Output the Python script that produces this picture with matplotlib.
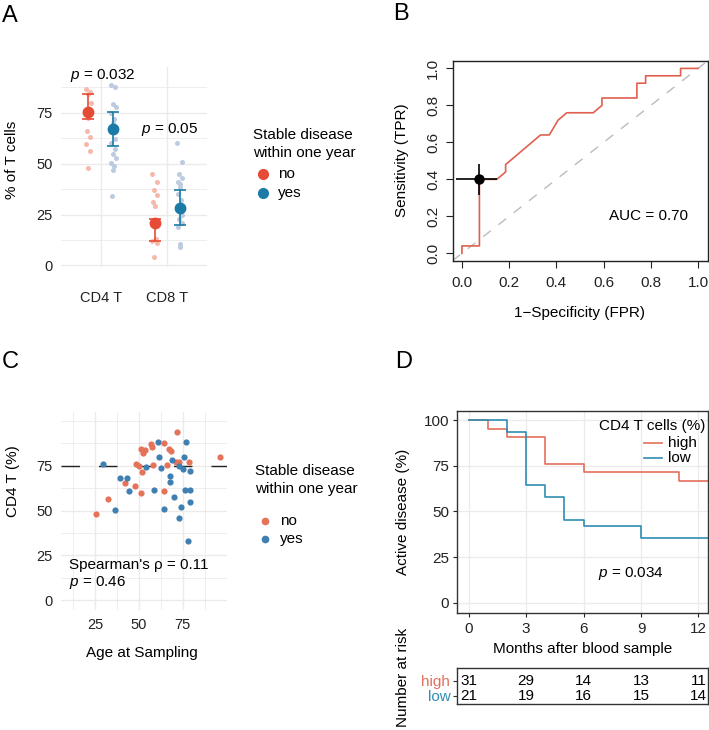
import numpy as np
import matplotlib
matplotlib.use("Agg")
import matplotlib.pyplot as plt
from matplotlib.lines import Line2D

plt.rcParams["font.family"] = ["Liberation Sans", "DejaVu Sans"]
plt.rcParams["mathtext.fontset"] = "custom"
plt.rcParams["mathtext.it"] = "Liberation Sans:italic"
plt.rcParams["mathtext.rm"] = "Liberation Sans"

# ---- data -------------------------------------------------------------
# A: % of T cells per patient, by stable disease (no / yes)
cats = ["CD4 T", "CD8 T"]
cd4_no = [86.5, 85.3, 84.0, 80.0, 76.0, 74.0, 72.5, 66.1, 63.2, 59.9, 56.3, 48.0]
cd4_yes = [88.6, 87.5, 79.1, 78.0, 75.0, 72.0, 70.0, 67.0, 62.3, 60.0, 57.0,
           54.6, 52.8, 50.5, 49.0, 47.0, 34.0]
cd8_no = [45.1, 41.0, 36.8, 34.4, 31.0, 29.0, 22.0, 20.0, 13.0, 12.2, 11.0, 3.9]
cd8_yes = [60.2, 50.8, 45.0, 43.0, 41.0, 40.0, 38.5, 35.0, 32.0, 27.8, 25.0,
           23.0, 21.0, 19.0, 10.5, 9.2]
mid_no = [75.2, 20.7]
lo_no = [71.9, 12.0]
hi_no = [84.0, 23.0]
mid_yes = [66.8, 28.1]
lo_yes = [58.9, 19.9]
hi_yes = [75.3, 36.8]
p_labels = ["0.032", "0.05"]
p_y = [93.5, 67.0]

# B: ROC curve
fpr = [0, 0, 0.074, 0.074, 0.148, 0.185, 0.185, 0.333, 0.370, 0.407, 0.444,
       0.556, 0.593, 0.593, 0.741, 0.741, 0.778, 0.778, 0.926, 0.926, 1.0]
tpr = [0, 0.04, 0.04, 0.40, 0.40, 0.44, 0.48, 0.64, 0.64, 0.72, 0.76,
       0.76, 0.80, 0.84, 0.84, 0.92, 0.92, 0.96, 0.96, 1.0, 1.0]
best_fpr, best_fpr_ci = 0.074, (-0.024, 0.148)
best_tpr, best_tpr_ci = 0.40, (0.315, 0.483)
auc = 0.70

# C: age vs CD4 T (%)
age_no = [25.2, 32.5, 42.0, 47.7, 51.1, 51.5, 48.2, 51.1, 53.4, 52.2, 56.6, 57.4,
          57.9, 64.4, 67.3, 68.2, 65.7, 71.6, 70.9, 72.8, 78.5, 96.1, 64.4, 50.1]
cd4_age_no = [47.9, 56.6, 65.3, 63.8, 59.8, 71.5, 75.9, 84.5, 83.6, 81.9, 87.3, 85.4,
              75.2, 87.6, 84.1, 83.0, 75.2, 94.0, 76.9, 76.9, 77.0, 79.8, 60.9, 74.6]
age_yes = [29.2, 36.3, 39.1, 42.9, 44.4, 53.8, 58.7, 61.0, 61.4, 62.5, 64.0, 68.8, 67.4,
           67.4, 69.9, 72.8, 74.1, 75.2, 75.8, 76.6, 76.0, 79.0, 79.0, 78.8, 77.9, 73.0]
cd4_age_yes = [76.1, 50.3, 67.9, 68.1, 60.7, 74.3, 61.4, 88.4, 79.8, 73.7, 50.8, 78.0, 69.1,
               65.7, 57.5, 46.0, 52.1, 73.1, 79.8, 88.4, 61.4, 61.4, 71.8, 54.6, 33.0, 74.6]
cd4_cut = 75
rho, rho_p = "0.11", "0.46"

# D: Kaplan-Meier, active disease (%)
t_high = [0, 1, 2, 4, 6, 11, 12.6]
s_high = [100, 95.2, 90.5, 76.2, 71.4, 66.7, 66.7]
t_low = [0, 2, 3, 4, 5, 6, 9, 12.6]
s_low = [100, 93.5, 64.5, 58.1, 45.2, 41.9, 35.5, 35.5]
risk_t = [0, 3, 6, 9, 12]
risk_high = [31, 29, 14, 13, 11]
risk_low = [21, 19, 16, 15, 14]
km_p = "0.034"

# ---- style ------------------------------------------------------------
W, H = 709, 730
RED, BLUE = "#E64B35", "#1B7BA6"
RED_L, BLUE_L = "#F5B9AC", "#BCCBDF"
RED_C, BLUE_C = "#E5735A", "#3F7FB2"
RED_D, BLUE_D = "#E46F5B", "#2F8DB4"
GRID = "#EBEBEB"
FS = 11


def rect(l, t, r, b):
    return [l / W, 1 - b / H, (r - l) / W, (b - t) / H]


def fxy(x, y):
    return x / W, 1 - y / H


fig = plt.figure(figsize=(W / 100, H / 100), dpi=100, facecolor="white")

# ---- A ----------------------------------------------------------------
axA = fig.add_axes(rect(61, 67, 207, 267))
axA.set_xlim(0.4, 2.6)
axA.set_ylim(-0.8, 97.5)
axA.set_xticks([1, 2])
axA.set_xticklabels(cats)
axA.set_yticks([0, 25, 50, 75])
axA.set_yticks([12.5, 37.5, 62.5, 87.5], minor=True)
axA.grid(which="major", color=GRID, lw=1.0)
axA.grid(which="minor", axis="y", color=GRID, lw=0.6)
axA.set_axisbelow(True)
for s in axA.spines.values():
    s.set_visible(False)
axA.tick_params(which="both", length=0, labelsize=10.5, colors="#222222")
axA.tick_params(axis="x", pad=17)
axA.tick_params(axis="y", pad=6)

jit = np.array([-0.04, 0.03, -0.01, 0.04, -0.03, 0.01, 0.0, -0.02, 0.02])
dodge = 0.19
for i, (vals_no, vals_yes) in enumerate([(cd4_no, cd4_yes), (cd8_no, cd8_yes)]):
    xc = i + 1
    axA.scatter(xc - dodge + np.resize(jit, len(vals_no)), vals_no, s=13,
                color=RED_L, lw=0, zorder=2)
    axA.scatter(xc + dodge + np.resize(jit, len(vals_yes)), vals_yes, s=13,
                color=BLUE_L, lw=0, zorder=2)

xs = np.arange(1, len(cats) + 1)
for x, mid, lo, hi, col in [(xs - dodge, mid_no, lo_no, hi_no, RED),
                            (xs + dodge, mid_yes, lo_yes, hi_yes, BLUE)]:
    mid, lo, hi = np.array(mid), np.array(lo), np.array(hi)
    axA.errorbar(x, mid, yerr=[mid - lo, hi - mid], fmt="o", ms=7.5, color=col,
                 capsize=4, elinewidth=1.2, capthick=1.2, zorder=3)
for x, lab, y in zip(xs, p_labels, p_y):
    axA.text(x + 0.03, y, "$p$ = " + lab, ha="center", va="center", fontsize=FS)

fig.text(*fxy(12, 160), "% of T cells", rotation=90, ha="center", va="center", fontsize=FS)

# legend A
fig.text(*fxy(253, 135), "Stable disease", ha="left", va="center", fontsize=FS)
fig.text(*fxy(253, 153), "within one year", ha="left", va="center", fontsize=FS)
for lab, col, y in [("no", RED, 174), ("yes", BLUE, 193)]:
    fig.add_artist(Line2D([262.7 / W], [1 - y / H], marker="o", ms=7, color=col,
                          lw=0, transform=fig.transFigure))
    fig.text(*fxy(278, y), lab, ha="left", va="center", fontsize=FS)

# ---- B ----------------------------------------------------------------
axB = fig.add_axes(rect(452.5, 61, 707.5, 260.7))
axB.set_xlim(-0.04, 1.04)
axB.set_ylim(-0.04, 1.04)
ticks = np.linspace(0, 1, 6)
axB.set_xticks(ticks)
axB.set_yticks(ticks)
axB.set_xticklabels([f"{t:.1f}" for t in ticks])
axB.set_yticklabels([f"{t:.1f}" for t in ticks], rotation=90, va="center")
axB.tick_params(length=5, width=0.8, labelsize=FS, colors="#222222", pad=4)
axB.tick_params(axis="x", pad=6)
for s in axB.spines.values():
    s.set_linewidth(1.0)
    s.set_color("#222222")
axB.plot([-0.04, 1.04], [-0.04, 1.04], color="#BBBBBB", lw=1.0, dashes=(7, 7))
axB.plot(fpr, tpr, color="#E0604F", lw=1.2)
axB.errorbar([best_fpr], [best_tpr],
             xerr=[[best_fpr - best_fpr_ci[0]], [best_fpr_ci[1] - best_fpr]],
             yerr=[[best_tpr - best_tpr_ci[0]], [best_tpr_ci[1] - best_tpr]],
             fmt="o", ms=6.5, color="black", elinewidth=1.2, capsize=0, zorder=4)
axB.text(0.79, 0.20, f"AUC = {auc:.2f}", ha="center", va="center", fontsize=FS)
fig.text(*fxy(401.7, 160), "Sensitivity (TPR)", rotation=90, ha="center", va="center",
         fontsize=FS)
fig.text(*fxy(580, 313), "1\u2212Specificity (FPR)", ha="center", va="center", fontsize=FS)

# ---- C ----------------------------------------------------------------
axC = fig.add_axes(rect(61, 412, 227, 610))
axC.set_xlim(5.4, 100.2)
axC.set_ylim(-5.5, 105)
axC.set_xticks([25, 50, 75])
axC.set_xticks([12.5, 37.5, 62.5, 87.5, 100], minor=True)
axC.set_yticks([0, 25, 50, 75])
axC.set_yticks([12.5, 37.5, 62.5, 87.5, 100], minor=True)
axC.grid(which="major", color=GRID, lw=1.0)
axC.grid(which="minor", color=GRID, lw=0.6)
axC.set_axisbelow(True)
for s in axC.spines.values():
    s.set_visible(False)
axC.tick_params(which="both", length=0, labelsize=10.5, colors="#222222")
axC.tick_params(axis="x", pad=6)
axC.tick_params(axis="y", pad=6)
axC.axhline(cd4_cut, color="#222222", lw=1.0, dashes=(13.3, 13.7), zorder=2)
axC.scatter(age_no, cd4_age_no, s=20, color=RED_C, lw=0, zorder=3)
axC.scatter(age_yes, cd4_age_yes, s=20, color=BLUE_C, lw=0, zorder=3)
axC.text(10.0, 19.6, f"Spearman's \u03c1 = {rho}", ha="left", va="center", fontsize=FS)
axC.text(10.0, 9.9, f"$p$ = {rho_p}", ha="left", va="center", fontsize=FS)
fig.text(*fxy(13, 481), "CD4 T (%)", rotation=90, ha="center", va="center", fontsize=FS)
fig.text(*fxy(141.7, 652.7), "Age at Sampling", ha="center", va="center", fontsize=FS)

# legend C
fig.text(*fxy(255, 470.7), "Stable disease", ha="left", va="center", fontsize=FS)
fig.text(*fxy(255, 489), "within one year", ha="left", va="center", fontsize=FS)
for lab, col, y in [("no", RED_C, 520.7), ("yes", BLUE_C, 539.3)]:
    fig.add_artist(Line2D([265 / W], [1 - y / H], marker="o", ms=4.5, color=col,
                          lw=0, transform=fig.transFigure))
    fig.text(*fxy(280, y), lab, ha="left", va="center", fontsize=FS)

# ---- D ----------------------------------------------------------------
axD = fig.add_axes(rect(457.3, 411, 708, 612.7))
axD.set_xlim(-0.6, 12.5)
axD.set_ylim(-5.5, 105)
axD.set_xticks(risk_t)
axD.set_yticks([0, 25, 50, 75, 100])
axD.grid(color=GRID, lw=0.9)
axD.set_axisbelow(True)
for s in axD.spines.values():
    s.set_linewidth(1.0)
    s.set_color("#333333")
axD.tick_params(length=3, width=0.8, labelsize=FS, colors="#222222", pad=3)
axD.tick_params(axis="x", pad=4)
axD.step(t_high, s_high, where="post", color=RED_D, lw=1.2)
axD.step(t_low, s_low, where="post", color=BLUE_D, lw=1.2)
axD.text(8.5, 16.1, f"$p$ = {km_p}", ha="center", va="center", fontsize=FS)
fig.text(*fxy(403, 512), "Active disease (%)", rotation=90, ha="center", va="center",
         fontsize=FS)
fig.text(*fxy(582.7, 649), "Months after blood sample", ha="center", va="center",
         fontsize=FS)

# legend D
fig.text(*fxy(705, 426), "CD4 T cells (%)", ha="right", va="center", fontsize=FS)
for lab, col, y in [("high", RED_D, 442.7), ("low", BLUE_D, 457.7)]:
    fig.add_artist(Line2D([644 / W, 662 / W], [1 - y / H, 1 - y / H], color=col,
                          lw=1.2, transform=fig.transFigure))
    fig.text(*fxy(668, y), lab, ha="left", va="center", fontsize=FS)

# number at risk table
axT = fig.add_axes(rect(457.3, 668, 708, 704))
axT.set_xlim(-0.6, 12.5)
axT.set_ylim(0, 1)
axT.set_xticks([])
row_y = [0.64, 0.23]
axT.set_yticks(row_y)
axT.set_yticklabels(["high", "low"])
for lbl, col in zip(axT.get_yticklabels(), [RED_D, BLUE_D]):
    lbl.set_color(col)
axT.tick_params(axis="y", length=3, width=0.8, labelsize=FS, pad=2, color="#333333")
for s in axT.spines.values():
    s.set_linewidth(1.0)
    s.set_color("#333333")
for t, nh, nl in zip(risk_t, risk_high, risk_low):
    axT.text(t, row_y[0], str(nh), ha="center", va="center", fontsize=FS)
    axT.text(t, row_y[1], str(nl), ha="center", va="center", fontsize=FS)
fig.text(*fxy(403, 677), "Number at risk", rotation=90, ha="center", va="center",
         fontsize=FS)

# ---- panel letters ----------------------------------------------------
for letter, x, y in [("A", 2, 22), ("B", 393, 20), ("C", 2, 368), ("D", 395, 368)]:
    fig.text(*fxy(x, y), letter, fontsize=17, ha="left", va="baseline")

fig.savefig("out.png", dpi=100, facecolor="white")
